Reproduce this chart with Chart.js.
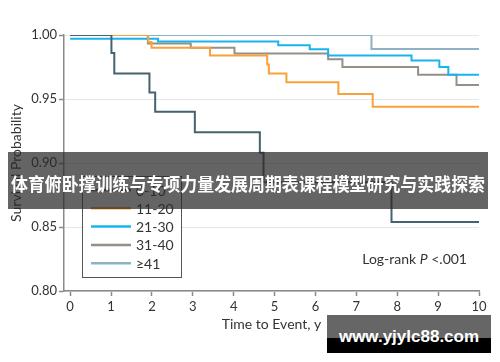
<!DOCTYPE html>
<html>
<head>
<meta charset="utf-8">
<script src="https://cdn.jsdelivr.net/npm/chart.js@4.4.1/dist/chart.umd.min.js"></script>
<style>
  html, body { margin: 0; padding: 0; background: #fff; }
  #wrap { position: relative; width: 500px; height: 362px; overflow: hidden; }
  #km { position: absolute; left: 0; top: 0; }
  .logrank { position: absolute; right: 33px; top: 250px; font: 14px Lato, sans-serif; color: #333; line-height: 18px; }
  .banner { position: absolute; left: 8px; top: 152px; width: 480px; height: 57px; background: rgba(40,40,40,0.72); overflow: hidden; }
  .banner span { position: absolute; left: 50%; top: 3px; color: #fff; white-space: nowrap;
                 font: bold 18px "Noto Sans CJK SC", sans-serif; line-height: 57px; transform: translateX(-50%); }
  .mark { position: absolute; left: 327px; top: 315px; width: 164px; height: 38px;
          background: linear-gradient(#666 0, #666 23px, #000 23px, #000 38px);
          color: #fff; font: bold 17px "Liberation Sans", Arial, sans-serif; line-height: 44px; text-align: center; white-space: nowrap; }
</style>
</head>
<body>
<div id="wrap">
  <canvas id="km" width="500" height="362"></canvas>
  <div class="logrank">Log-rank <i>P</i> &lt;.001</div>
  <div class="banner"><span id="bannerText">体育俯卧撑训练与专项力量发展周期表课程模型研究与实践探索</span></div>
  <div class="mark">www.yjylc88.com</div>
</div>
<script>
// group labels
const groups = ['0-10', '11-20', '21-30', '31-40', '≥41'];

// event times (years) and survival after each step
const t0_10  = [0, 1.01, 1.08, 1.94, 2.08, 3.05, 4.64, 4.73, 7.86, 10];
const s0_10  = [1.00, 0.986, 0.970, 0.955, 0.940, 0.924, 0.908, 0.885, 0.854, 0.854];

const t11_20 = [0, 1.91, 1.99, 3.42, 4.82, 4.86, 5.29, 6.56, 7.40, 10];
const s11_20 = [1.00, 0.9945, 0.990, 0.984, 0.977, 0.970, 0.963, 0.954, 0.944, 0.944];

const t21_30 = [0, 2.15, 5.09, 5.86, 6.31, 8.35, 9.03, 9.25, 10];
const s21_30 = [0.997, 0.995, 0.992, 0.9888, 0.984, 0.980, 0.975, 0.969, 0.969];

const t31_40 = [0, 1.90, 2.95, 4.02, 6.31, 6.66, 8.51, 9.45, 10];
const s31_40 = [1.00, 0.9933, 0.990, 0.9855, 0.981, 0.975, 0.969, 0.961, 0.961];

const t41    = [0, 7.37, 10];
const s41    = [1.00, 0.989, 0.989];

const xTicks = [0, 1, 2, 3, 4, 5, 6, 7, 8, 9, 10];
const yTicks = [0.80, 0.85, 0.90, 0.95, 1.00];

const colors = ['#456270', '#f7a23b', '#18b4ec', '#968f85', '#8db2c3'];

const toPts = (ts, ss) => ts.map((t, i) => ({ x: t, y: ss[i] }));
const series = [toPts(t0_10, s0_10), toPts(t11_20, s11_20), toPts(t21_30, s21_30), toPts(t31_40, s31_40), toPts(t41, s41)];

const txt = '#333';
const axisGray = '#8a8a8a';

// squeeze the banner title to the width it has in the picture
const bt = document.getElementById('bannerText');
const bw = bt.offsetWidth;
if (bw > 0) bt.style.transform = 'translateX(-50%) scaleX(' + (474 / bw) + ')';

// boxed legend inside the plot
const boxLegend = {
  id: 'boxLegend',
  afterDatasetsDraw(chart, args, o) {
    const ctx = chart.ctx;
    ctx.save();
    ctx.fillStyle = '#fff';
    ctx.fillRect(o.x, o.y, o.w, o.h);
    ctx.strokeStyle = '#555';
    ctx.lineWidth = 1;
    ctx.strokeRect(o.x + 0.5, o.y + 0.5, o.w, o.h);
    ctx.font = '14px Lato';
    ctx.textBaseline = 'middle';
    chart.data.datasets.forEach((ds, i) => {
      const cy = o.y + o.padTop + i * o.rowH;
      ctx.strokeStyle = ds.borderColor;
      ctx.lineWidth = 2.5;
      ctx.beginPath();
      ctx.moveTo(o.x + 9, cy);
      ctx.lineTo(o.x + 49, cy);
      ctx.stroke();
      ctx.fillStyle = txt;
      ctx.fillText(ds.label, o.x + 54, cy + 1);
    });
    ctx.restore();
  }
};

new Chart(document.getElementById('km'), {
  type: 'line',
  data: {
    datasets: groups.map((g, i) => ({
      label: g,
      data: series[i],
      borderColor: colors[i],
      borderWidth: 2,
      pointRadius: 0,
      stepped: true,
      fill: false,
    })),
  },
  options: {
    responsive: false,
    animation: false,
    layout: { padding: { top: 35, right: 21, left: 0, bottom: 0 } },
    plugins: {
      legend: { display: false },
      tooltip: { enabled: false },
      boxLegend: { x: 82, y: 176, w: 99, h: 101, padTop: 14, rowH: 18.3 },
    },
    scales: {
      x: {
        type: 'linear', min: -0.15, max: 10,
        afterFit: s => { s.height = 71; },
        afterBuildTicks: s => { s.ticks = xTicks.map(v => ({ value: v })); },
        ticks: { color: txt, font: { family: 'Lato', size: 13 }, padding: 3, maxRotation: 0, autoSkip: false },
        grid: { drawOnChartArea: false, drawTicks: true, tickLength: 5, tickColor: axisGray, tickWidth: 1.5 },
        border: { color: axisGray, width: 1.5 },
        title: { display: true, text: 'Time to Event, y', color: txt, font: { family: 'Lato', size: 14 }, padding: { bottom: 29, top: 0 } },
      },
      y: {
        min: 0.80, max: 1.00,
        afterFit: s => { s.width = 64; },
        afterBuildTicks: s => { s.ticks = yTicks.map(v => ({ value: v })); },
        ticks: { color: txt, font: { family: 'Lato', size: 13 }, padding: 2, callback: v => v.toFixed(2) },
        grid: { color: '#e6e6e6', lineWidth: 1, drawTicks: true, tickLength: 5, tickColor: axisGray, tickWidth: 1.5 },
        border: { color: axisGray, width: 1.5 },
        title: { display: true, text: 'Survival Probability', color: txt, font: { family: 'Lato', size: 14 }, padding: { top: 8, bottom: 0 } },
      },
    },
  },
  plugins: [boxLegend],
});
</script>
</body>
</html>
